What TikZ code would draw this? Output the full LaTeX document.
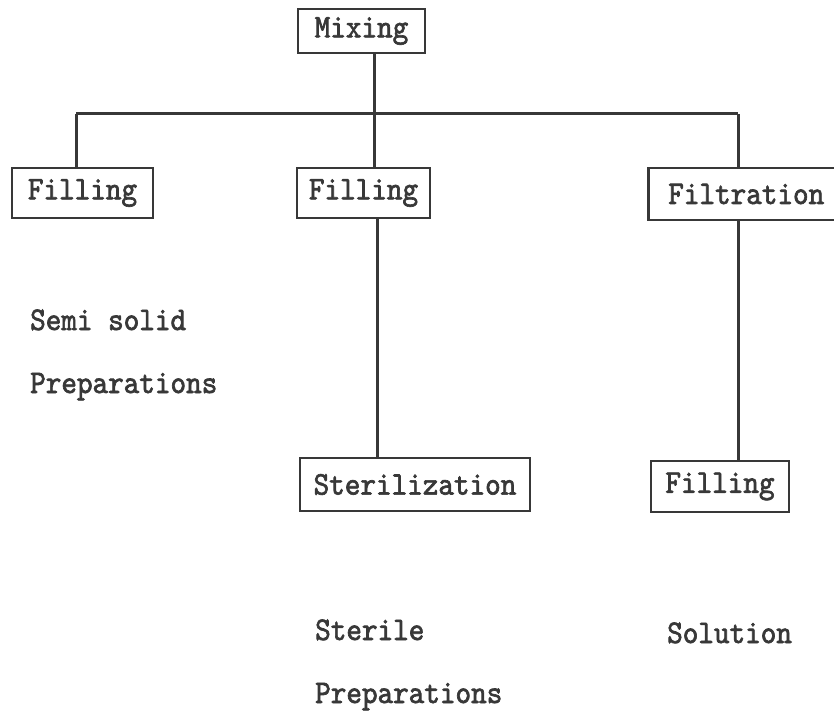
\documentclass[tikz,border=0pt]{standalone}
\usepackage{fontspec}
% typewriter face, slightly condensed and thickened
\newfontfamily\typewriter{lmmono10-regular}[Extension=.otf, FakeStretch=0.9, FakeBold=2]
\definecolor{ink}{HTML}{383838}
\tikzset{
  typed/.style={font=\typewriter\fontsize{33}{40}\selectfont, text=ink},
  stage/.style={typed, draw=ink, line width=2.6pt, inner sep=0pt},
  link/.style={draw=ink, line width=3pt},
  caption/.style={typed, anchor=base west, inner sep=0pt}
}
\begin{document}
\begin{tikzpicture}[x=1pt, y=-1pt]
  \useasboundingbox (0,0) rectangle (834,714);
  \clip (0,0) rectangle (834,714);

  % process stages
  \node[stage, minimum width=127pt, minimum height=44pt] (mix) at (361.5,31) {Mixing};
  \node[stage, minimum width=141pt, minimum height=50pt] (fillA) at (82.5,193) {Filling};
  \node[stage, minimum width=133pt, minimum height=50pt] (fillB) at (363.5,193) {Filling};
  \node[stage, anchor=west, inner xsep=20pt, minimum height=52pt] (filt) at (647,194) {Filtration};
  \node[stage, minimum width=230pt, minimum height=53pt] (steril) at (415,484.5) {Sterilization};
  \node[stage, minimum width=138pt, minimum height=51pt] (fillC) at (720,486.5) {Filling};

  % distribution bus below the mixing stage
  \coordinate (busL) at (76,114);
  \coordinate (busM) at (374,114);
  \coordinate (busR) at (738,114);
  \coordinate (midDrop) at (377,300);

  \draw[link] (mix.south -| busM) -- (busM);
  \draw[link] (busL) -- (busR);
  \draw[link] (busL) -- (busL |- fillA.north);
  \draw[link] (busM) -- (busM |- fillB.north);
  \draw[link] (busR) -- (busR |- filt.north);
  \draw[link] (fillB.south -| midDrop) -- (midDrop |- steril.north);
  \draw[link] (filt.south -| busR) -- (busR |- fillC.north);

  % product captions
  \node[caption] (semi) at (30,330) {Semi solid};
  \node[caption] (semiprep) at (30,393) {Preparations};
  \node[caption] (sterile) at (315,640) {Sterile};
  \node[caption] (sterileprep) at (315,703) {Preparations};
  \node[caption] (solution) at (667,643) {Solution};
\end{tikzpicture}
\end{document}
